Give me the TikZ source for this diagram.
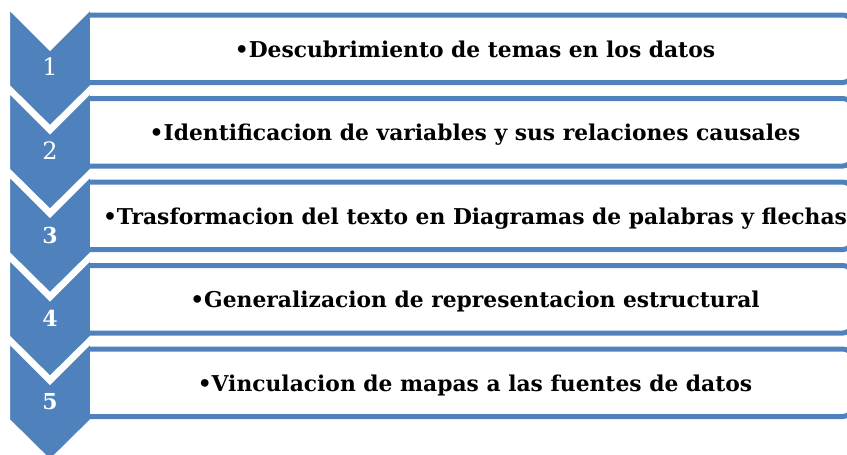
\documentclass[tikz,border=0pt]{standalone}
\usepackage{fontspec}
\setmainfont{DejaVu Serif}
\definecolor{chevblue}{RGB}{79,129,189}
\begin{document}
\begin{tikzpicture}[x=1pt,y=-1pt,
		chev/.style={fill=chevblue, draw=white, line width=3pt, line join=miter},
		listbox/.style={draw=chevblue, line width=5pt, rounded corners=9pt},
		itemtext/.style={anchor=base, font=\bfseries\fontsize{21.8}{26}\selectfont},
		numlight/.style={text=white, font=\fontsize{24}{28}\selectfont},
		numbold/.style={text=white, font=\bfseries\fontsize{22}{26}\selectfont}]
		\clip (0,0) rectangle (847,455);
		%chevrons
		\foreach \k in {0,...,4}{
			\pgfmathsetmacro{\yt}{9+83.5*\k}
			\draw[chev] (8.5,\yt-1.5) -- (50,\yt+40) -- (91.5,\yt-1.5) -- (91.5,\yt+77) -- (50,\yt+118) -- (8.5,\yt+77) -- cycle;
		}
		%boxes
		\foreach \k in {0,...,4}{
			\pgfmathsetmacro{\yb}{15+83.5*\k}
			\draw[listbox] (90,\yb) -- (852,\yb) -- (852,\yb+67.5) -- (90,\yb+67.5);
		}
		%numbers
		\node[numlight] (num1) at (50,67) {1};
		\node[numlight] (num2) at (50,151) {2};
		\node[numbold] (num3) at (50,235) {3};
		\node[numbold] (num4) at (50,318) {4};
		\node[numbold] (num5) at (50,402) {5};
		%texte
		\node[itemtext] (item1) at (475,57) {•Descubrimiento de temas en los datos};
		\node[itemtext] (item2) at (475,140.5) {•Identificacion de variables y sus relaciones causales};
		\node[itemtext] (item3) at (475,224) {•Trasformacion del texto en Diagramas de palabras y flechas};
		\node[itemtext] (item4) at (475,307.5) {•Generalizacion de representacion estructural};
		\node[itemtext] (item5) at (475,391) {•Vinculacion de mapas a las fuentes de datos};
	\end{tikzpicture}
\end{document}
